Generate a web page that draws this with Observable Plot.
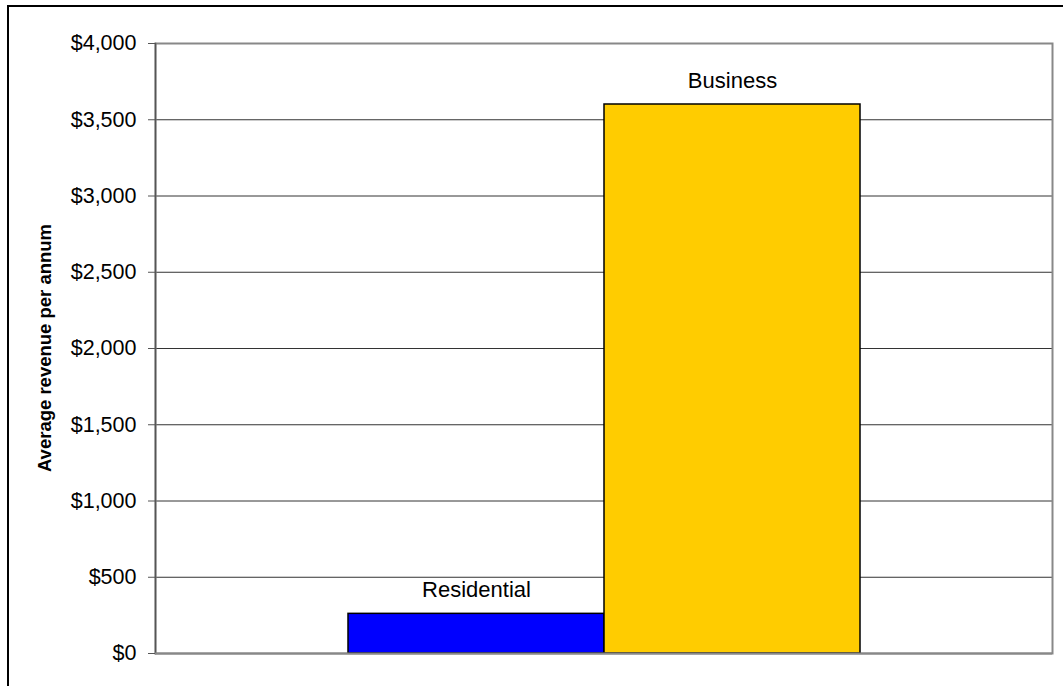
<!DOCTYPE html>
<html>
<head>
<meta charset="utf-8">
<script src="https://cdn.jsdelivr.net/npm/d3@7"></script>
<script src="https://cdn.jsdelivr.net/npm/@observablehq/plot@0.6"></script>
<style>
  html, body { margin: 0; padding: 0; background: #fff; overflow: hidden; }
  #wrap { position: relative; width: 1063px; height: 686px; overflow: hidden; }
  #frame { position: absolute; left: 7px; top: 5px; width: 1200px; height: 900px; border: 2px solid #000; box-sizing: border-box; }
  #chart { position: absolute; left: 0; top: 0; }
  #chart svg text { font-family: 'Liberation Sans', Arial, sans-serif; }
</style>
</head>
<body>
<div id="wrap">
  <div id="frame"></div>
  <div id="chart"></div>
</div>
<script>
const categories = ["Residential", "Business"];
const values = [260, 3600];
const colors = ["#0000FF", "#FFCC00"];
const yTicks = [0, 500, 1000, 1500, 2000, 2500, 3000, 3500, 4000];
const yTitle = "Average revenue per annum";

const data = categories.map((c, i) => ({category: c, value: values[i], color: colors[i]}));
const fmt = d => "$" + d3.format(",")(d);

const plot = Plot.plot({
  width: 1063,
  height: 686,
  marginLeft: 155,
  marginRight: 11,
  marginTop: 43,
  marginBottom: 33,
  style: {fontFamily: "'Liberation Sans', Arial, sans-serif", fontSize: "21px", background: "transparent", color: "#000"},
  x: {domain: categories, paddingInner: 0, paddingOuter: 0.75, axis: null},
  y: {domain: [0, 4000], ticks: yTicks, tickFormat: fmt, label: null},
  marks: [
    Plot.gridY(yTicks, {stroke: "#333", strokeOpacity: 1, strokeWidth: 1}),
    Plot.frame({stroke: "#888", strokeWidth: 2}),
    Plot.frame({anchor: "left", stroke: "#555", strokeWidth: 1.5}),
    Plot.barY(data, {x: "category", y: "value", fill: "color", stroke: "#000", strokeWidth: 1.5, inset: 0}),
    Plot.text(data, {x: "category", y: "value", text: "category", dy: -24, fill: "#000", fontSize: 22}),
    Plot.axisY({ticks: yTicks, tickFormat: fmt, tickSize: 7, tickPadding: 12, fontSize: 21.5, stroke: "#555", label: null}),
    Plot.ruleY([0], {stroke: "#888", strokeWidth: 2})
  ]
});

// y-axis title (rotated)
const svg = d3.select(plot);
svg.append("text")
  .attr("transform", `translate(51, ${43 + 610 / 2}) rotate(-90)`)
  .attr("text-anchor", "middle")
  .attr("font-family", "'Liberation Sans', Arial, sans-serif")
  .attr("font-size", 18.5)
  .attr("font-weight", "bold")
  .attr("fill", "#000")
  .text(yTitle);

document.getElementById("chart").appendChild(plot);
</script>
</body>
</html>
